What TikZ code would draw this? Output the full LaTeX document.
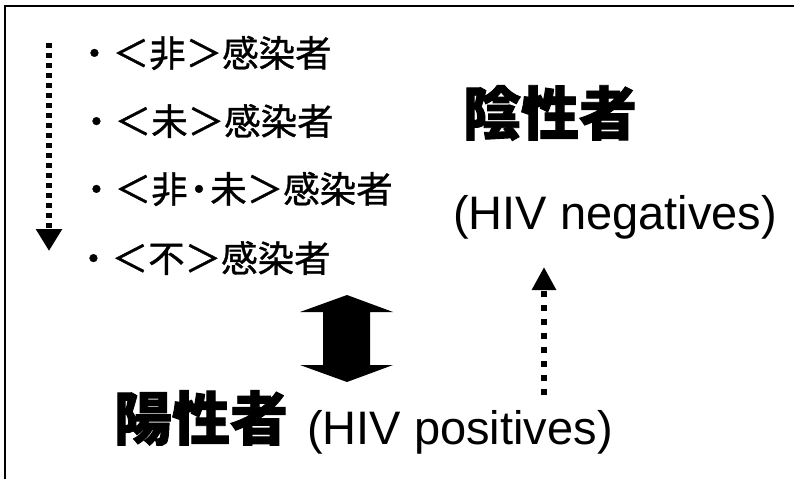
\documentclass[tikz,border=0pt]{standalone}
\usepackage{fontspec}
\setmainfont{Liberation Sans}
\newfontfamily\cjk[FakeBold=1]{Noto Sans CJK JP}
\newfontfamily\cjkheavy[BoldFeatures={FakeBold=1.5}]{Noto Sans CJK JP}
\usetikzlibrary{arrows.meta}
\tikzset{
  item/.style={anchor=west, inner sep=0pt, font=\cjk\fontsize{36.5}{36.5}\selectfont},
  title/.style={inner sep=0pt, font=\cjkheavy\bfseries\fontsize{58}{58}\selectfont},
  eng/.style={inner sep=0pt, font=\fontsize{47}{47}\selectfont},
  dotarrowL/.style={line width=5.5pt, dash pattern=on 5pt off 5pt, -{Triangle[width=25pt,length=22pt]}},
  dotarrowR/.style={line width=6.5pt, dash pattern=on 6pt off 8pt, -{Triangle[width=23pt,length=23pt]}},
  frame/.style={line width=1.6pt, black},
}
\begin{document}
\begin{tikzpicture}[x=1pt,y=-1pt]
\useasboundingbox (0,0) rectangle (794,479);
\fill[white] (0,0) rectangle (794,479);
% frame
\draw[frame] (5,479) -- (5,6) -- (794,6);
% list
\node[item] (l1) at (76,53) {・＜非＞感染者};
\node[item] (l2) at (78,121) {・＜未＞感染者};
\node[item] (l3) at (78,189) {・＜非\kern-7pt・\kern-7pt未＞感染者};
\node[item] (l4) at (75,258) {・＜不＞感染者};
% left dotted arrow
\coordinate (ls) at (49,43);
\coordinate (le) at (49,251);
\draw[dotarrowL] (ls) -- (le);
% negatives
\node[title] (neg) at (550,113) {陰性者};
\node[eng, anchor=base] (negE) at (615,229) {(HIV negatives)};
% positives
\node[title] (pos) at (201,418) {陽性者};
\node[eng, anchor=base west] (posE) at (307,444) {(HIV positives)};
% fat double arrow
\fill[black] (300,312) -- (347,295) -- (393,312) -- (370,312) -- (370,365)
  -- (393,365) -- (347,382) -- (300,365) -- (323,365) -- (323,312) -- cycle;
% right dotted arrow
\coordinate (rs) at (544,395);
\coordinate (re) at (544,267);
\draw[dotarrowR] (rs) -- (re);
\end{tikzpicture}
\end{document}
